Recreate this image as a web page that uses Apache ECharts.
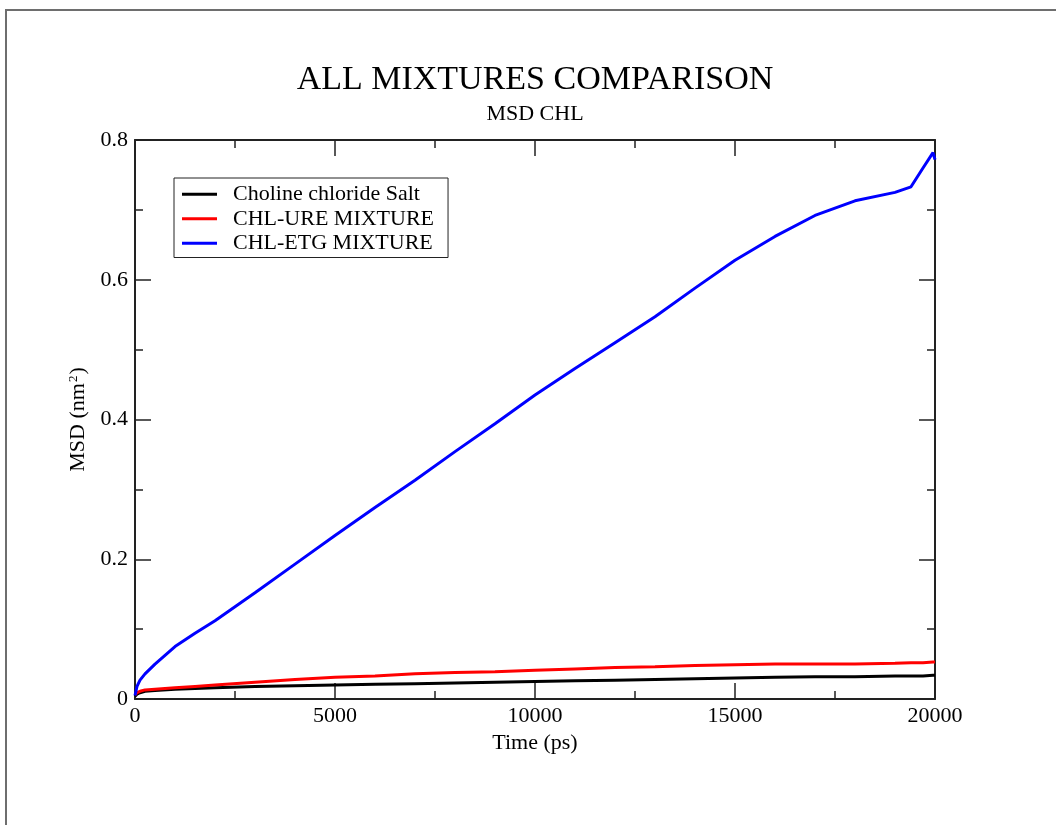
<!DOCTYPE html>
<html>
<head>
<meta charset="utf-8">
<script src="https://cdn.jsdelivr.net/npm/echarts@6/dist/echarts.min.js"></script>
<style>
html,body{margin:0;padding:0;background:#fff;}
#chart{width:1056px;height:825px;}
</style>
</head>
<body>
<div id="chart"></div>
<script>
const titleText = 'ALL MIXTURES COMPARISON';
const subtitleText = 'MSD CHL';
const seriesNames = ['Choline chloride Salt', 'CHL-URE MIXTURE', 'CHL-ETG MIXTURE'];
const seriesColors = ['#000000', '#ff0000', '#0000ff'];
const times = [0, 50, 125, 250, 500, 1000, 1500, 2000, 3000, 4000, 5000, 6000, 7000, 8000, 9000, 10000, 11000, 12000, 13000, 14000, 15000, 16000, 17000, 18000, 19000, 19400, 19700, 19950, 20000];
const cholineSalt = [0.004, 0.007, 0.009, 0.011, 0.012, 0.014, 0.015, 0.016, 0.018, 0.019, 0.020, 0.021, 0.022, 0.023, 0.024, 0.025, 0.026, 0.027, 0.028, 0.029, 0.030, 0.031, 0.032, 0.032, 0.033, 0.033, 0.033, 0.034, 0.034];
const chlUre = [0.006, 0.009, 0.011, 0.013, 0.014, 0.016, 0.018, 0.020, 0.024, 0.028, 0.031, 0.033, 0.036, 0.038, 0.039, 0.041, 0.043, 0.045, 0.046, 0.048, 0.049, 0.050, 0.050, 0.050, 0.051, 0.052, 0.052, 0.053, 0.053];
const chlEtg = [0.005, 0.018, 0.027, 0.036, 0.050, 0.075, 0.094, 0.112, 0.152, 0.193, 0.234, 0.274, 0.313, 0.354, 0.394, 0.435, 0.473, 0.510, 0.547, 0.588, 0.628, 0.662, 0.692, 0.713, 0.725, 0.733, 0.760, 0.782, 0.772];
const xTicks = {min: 0, max: 20000, interval: 5000};
const yTicks = {min: 0, max: 0.8, interval: 0.2};
const xName = 'Time (ps)';

const allValues = [cholineSalt, chlUre, chlEtg];
const FONT = 'Liberation Serif';

const chart = echarts.init(document.getElementById('chart'));
function axisCommon() {
  return {
    axisLine: {show: true, onZero: false, lineStyle: {color: '#222', width: 2}},
    axisTick: {show: true, inside: true, length: 16, lineStyle: {color: '#222', width: 1.5}},
    minorTick: {show: true, splitNumber: 2, length: 8, lineStyle: {color: '#222', width: 1.5}},
    splitLine: {show: false},
    minorSplitLine: {show: false}
  };
}
chart.setOption({
  animation: false,
  backgroundColor: '#fff',
  grid: {left: 135, right: 121, top: 140, bottom: 126, containLabel: false},
  legend: {
    orient: 'vertical', left: 174, top: 178,
    padding: [4, 14, 2, 8], itemGap: 0, itemWidth: 35, itemHeight: 3,
    borderColor: '#222', borderWidth: 1,
    icon: 'rect',
    data: seriesNames,
    textStyle: {fontFamily: FONT, fontSize: 22, lineHeight: 24.5, color: '#000', padding: [0, 0, 0, 11]}
  },
  xAxis: [
    Object.assign(axisCommon(), {
      type: 'value', position: 'bottom', min: xTicks.min, max: xTicks.max, interval: xTicks.interval,
      name: xName, nameLocation: 'middle', nameGap: 31,
      nameTextStyle: {fontFamily: FONT, fontSize: 22, color: '#000'},
      axisLabel: {fontFamily: FONT, fontSize: 22, color: '#000', margin: 6, formatter: v => String(v)}
    }),
    Object.assign(axisCommon(), {
      type: 'value', position: 'top', min: xTicks.min, max: xTicks.max, interval: xTicks.interval,
      axisLabel: {show: false}
    })
  ],
  yAxis: [
    Object.assign(axisCommon(), {
      type: 'value', position: 'left', min: yTicks.min, max: yTicks.max, interval: yTicks.interval,
      name: '{a|MSD (nm}{s|2}{a|)}', nameLocation: 'middle', nameGap: 43,
      nameTextStyle: {fontFamily: FONT, fontSize: 22, color: '#000',
        rich: {a: {fontFamily: FONT, fontSize: 22, color: '#000'},
               s: {fontFamily: FONT, fontSize: 13, color: '#000', verticalAlign: 'top', padding: [0, 1, 10, 1]}}},
      axisLabel: {fontFamily: FONT, fontSize: 22, color: '#000', margin: 7,
        formatter: v => (v === 0 ? '0' : v.toFixed(1))}
    }),
    Object.assign(axisCommon(), {
      type: 'value', position: 'right', min: yTicks.min, max: yTicks.max, interval: yTicks.interval,
      axisLabel: {show: false}
    })
  ],
  series: seriesNames.map((n, i) => ({
    name: n, type: 'line', xAxisIndex: 0, yAxisIndex: 0,
    data: times.map((t, k) => [t, allValues[i][k]]),
    showSymbol: false, symbol: 'none',
    lineStyle: {color: seriesColors[i], width: 3},
    itemStyle: {color: seriesColors[i]},
    z: 2 + i
  })),
  graphic: [
    {type: 'text', x: 535, y: 80, style: {text: titleText, fontFamily: FONT, fontSize: 34, fill: '#000', align: 'center', verticalAlign: 'middle'}},
    {type: 'text', x: 535, y: 114, style: {text: subtitleText, fontFamily: FONT, fontSize: 22, fill: '#000', align: 'center', verticalAlign: 'middle'}},
    {type: 'line', shape: {x1: 5, y1: 10, x2: 1056, y2: 10}, style: {stroke: '#6e6e6e', lineWidth: 2}},
    {type: 'line', shape: {x1: 6, y1: 9, x2: 6, y2: 825}, style: {stroke: '#6e6e6e', lineWidth: 2}}
  ]
});
</script>
</body>
</html>
